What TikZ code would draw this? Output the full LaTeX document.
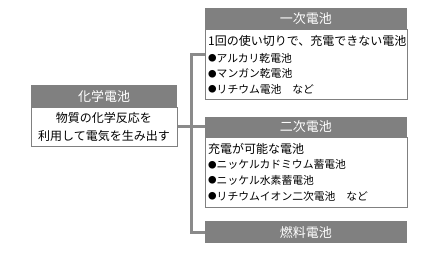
\documentclass[tikz,border=0pt]{standalone}
\usepackage{fontspec}
\setmainfont{Noto Sans CJK JP}
\definecolor{hdgray}{HTML}{808080}
\definecolor{lngray}{HTML}{8A8A8A}
\newcommand{\bul}{\raisebox{0.9pt}{\fontsize{8.5}{10}\selectfont ●}}

\begin{document}
\begin{tikzpicture}[x=1pt, y=-1pt,
  header/.style={fill=hdgray, text=white, font=\fontsize{13}{15}\selectfont, inner sep=0pt, anchor=north west},
  body/.style={draw=hdgray, line width=0.8pt, inner sep=0pt, anchor=north west},
  desc/.style={anchor=base west, inner sep=0pt, font=\fontsize{12}{14}\selectfont},
  item/.style={anchor=base west, inner sep=0pt, font=\fontsize{10.8}{13}\selectfont},
  conn/.style={lngray, line width=2.8pt}]
  \useasboundingbox (0,0) rectangle (437,259);

  % Connectors (drawn first, the boxes sit on top)
  \coordinate (jtop) at (191.5,54.5);
  \node[body, minimum width=146pt, minimum height=39pt] (lbody) at (31,107) {};
  \node[body, minimum width=202.5pt, minimum height=69.5pt] (b1) at (204.5,29.5) {};
  \node[header, minimum width=202.5pt, minimum height=20.5pt] (h2) at (204.5,116.5) {二次電池};
  \node[header, minimum width=202.5pt, minimum height=22pt] (h3) at (204.5,221) {燃料電池};
  \draw[conn] (jtop -| b1.west) -- (jtop) |- (h3.west);
  \draw[conn] (lbody.east) -- (lbody.east -| h2.west);

  % Chemical battery
  \node[header, minimum width=146pt, minimum height=22pt] (lhd) at (31,85) {化学電池};
  \node[desc, anchor=base] (l1) at (104,123) {物質の化学反応を};
  \node[desc, anchor=base] (l2) at (104,141) {利用して電気を生み出す};

  % Primary battery
  \node[header, minimum width=202.5pt, minimum height=21.5pt] (h1) at (204.5,8) {一次電池};
  \node[desc] (d1) at (208,46) {1回の使い切りで、充電できない電池};
  \node[item] (p1) at (208,62.5) {\bul アルカリ乾電池};
  \node[item] (p2) at (208,78) {\bul マンガン乾電池};
  \node[item] (p3) at (208,93.5) {\bul リチウム電池　など};

  % Secondary battery
  \node[body, minimum width=202.5pt, minimum height=70pt] (b2) at (204.5,137) {};
  \node[desc] (d2) at (208,153.5) {充電が可能な電池};
  \node[item] (s1) at (208,169) {\bul ニッケルカドミウム蓄電池};
  \node[item] (s2) at (208,184.5) {\bul ニッケル水素蓄電池};
  \node[item] (s3) at (208,200.5) {\bul リチウムイオン二次電池　など};
\end{tikzpicture}
\end{document}
